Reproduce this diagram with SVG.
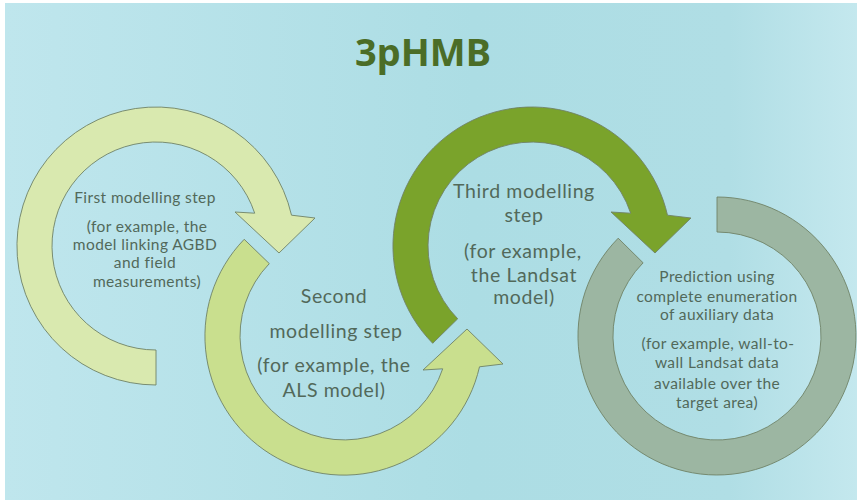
<svg xmlns="http://www.w3.org/2000/svg" width="857" height="500" viewBox="0 0 857 500">
  <defs>
    <linearGradient id="bg" x1="0" y1="0" x2="1" y2="0">
      <stop offset="0" stop-color="#bfe6ed"/>
      <stop offset="0.55" stop-color="#acdde4"/>
      <stop offset="0.85" stop-color="#b0dee5"/>
      <stop offset="1" stop-color="#c4e8ee"/>
    </linearGradient>
    <style>
      .shape { stroke: #6f8266; stroke-width: 0.9; stroke-linejoin: miter; }
      .a1 { fill: #d9e9af; }
      .a2 { fill: #c9df8e; }
      .a3 { fill: #7aa32b; }
      .ring { fill: #9cb6a2; }
      .lbl { font-family: Lato, "Open Sans", "Liberation Sans", sans-serif; fill: #52695a; text-anchor: middle; }
      .s14 { font-size: 15.5px; letter-spacing: 0.4px; }
      .s17 { font-size: 19.5px; letter-spacing: 0.6px; }
      .title { font-family: "Noto Sans", "Open Sans", "Liberation Sans", sans-serif; font-weight: bold; font-size: 38px; fill: #4b6d27; text-anchor: middle; }
    </style>
  </defs>

  <!-- backdrop -->
  <rect x="0" y="0" width="857" height="500" fill="#ffffff"/>
  <rect x="5" y="3" width="852" height="497" fill="url(#bg)"/>

  <text class="title" x="423" y="66">3pHMB</text>

  <g id="connectors">
    <!-- first modelling step: clockwise arc ending in an arrowhead -->
    <path id="arrow-first" class="shape a1" d="M 156,385 A 139 139 0 1 1 291.5,215.2 L 315,218 L 279,253 L 235,212 L 254.7,213.2 A 104 104 0 1 0 156,350 Z"/>
    <!-- second modelling step: counter-clockwise arc -->
    <path id="arrow-second" class="shape a2" d="M 244.2,239.3 A 139 139 0 1 0 479.5,366.8 L 503,364 L 467,329 L 423,370 L 442.7,368.8 A 104 104 0 1 1 269.3,263.6 Z"/>
    <!-- third modelling step: clockwise arc -->
    <path id="arrow-third" class="shape a3" d="M 432.7,343.3 A 139 139 0 1 1 667.5,215.2 L 691,218 L 655,253 L 611,212 L 630.7,213.2 A 104 104 0 1 0 457.7,318.8 Z"/>
    <!-- prediction: open ring -->
    <path id="ring-prediction" class="shape ring" d="M 717,197 A 139 139 0 1 1 618.2,238.2 L 643.1,262.8 A 104 104 0 1 0 717,232 Z"/>
  </g>

  <g id="node-first">
    <text class="lbl s14" x="145" y="203">First modelling step</text>
    <text class="lbl s14" x="147" y="232">(for example,  the</text>
    <text class="lbl s14" x="145" y="250">model linking AGBD</text>
    <text class="lbl s14" x="145" y="268">and field</text>
    <text class="lbl s14" x="147" y="287">measurements)</text>
  </g>

  <g id="node-second">
    <text class="lbl s17" x="334" y="303">Second</text>
    <text class="lbl s17" x="336" y="338">modelling step</text>
    <text class="lbl s17" x="334" y="372">(for example, the</text>
    <text class="lbl s17" x="334" y="397">ALS model)</text>
  </g>

  <g id="node-third">
    <text class="lbl s17" x="524" y="198">Third modelling</text>
    <text class="lbl s17" x="524" y="222">step</text>
    <text class="lbl s17" x="523" y="258">(for example,</text>
    <text class="lbl s17" x="524" y="282">the Landsat</text>
    <text class="lbl s17" x="524" y="304">model)</text>
  </g>

  <g id="node-prediction">
    <text class="lbl s14" x="717" y="282">Prediction using</text>
    <text class="lbl s14" x="717" y="302">complete enumeration</text>
    <text class="lbl s14" x="717" y="320">of auxiliary data</text>
    <text class="lbl s14" x="718" y="349">(for example, wall-to-</text>
    <text class="lbl s14" x="717" y="368">wall Landsat data</text>
    <text class="lbl s14" x="717" y="389">available over the</text>
    <text class="lbl s14" x="717" y="408">target area)</text>
  </g>
</svg>
